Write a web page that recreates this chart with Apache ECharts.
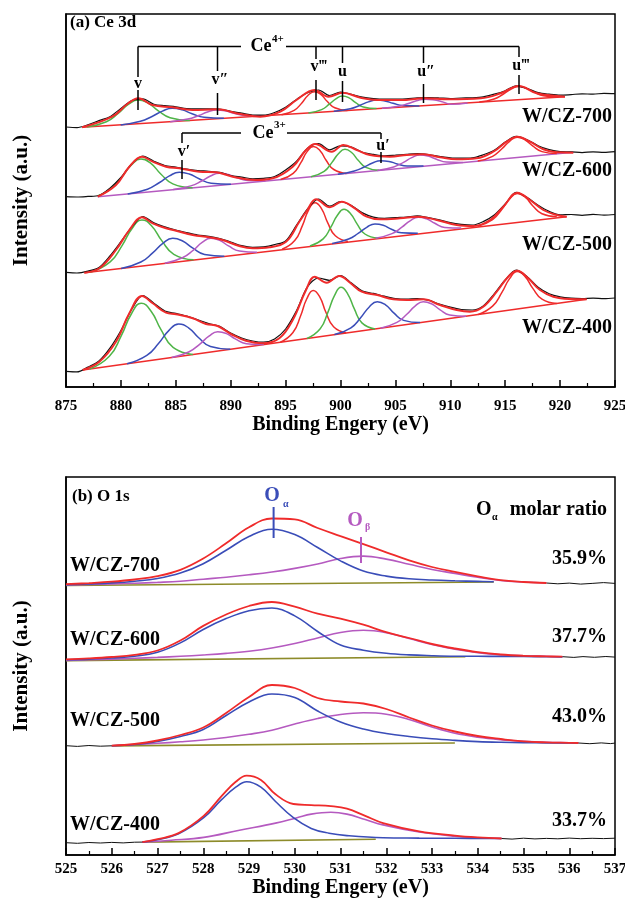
<!DOCTYPE html>
<html><head><meta charset="utf-8">
<script src="https://cdn.jsdelivr.net/npm/echarts@6/dist/echarts.min.js"></script>
<style>html,body{margin:0;padding:0;background:#fff}#c{width:625px;height:899px}</style>
</head><body><div id="c"></div><script>
// ---------------- DATA ----------------
// (a) Ce 3d : raw spectra sampled every 1 eV
const ceEv = [875,876,877,878,879,880,881,882,883,884,885,886,887,888,889,890,891,892,893,894,895,896,897,898,899,900,901,902,903,904,905,906,907,908,909,910,911,912,913,914,915,916,917,918,919,920,921,922,923,924,925];
const ceRaw700 = [260,259.4,262.2,266.4,270.3,278.6,286.5,288.2,282.8,281.3,280.2,278.4,278.2,278.2,278,275.6,273.8,272,271.8,274.5,279.8,287.6,294.3,297,291.5,295,292.6,289.8,288.4,287.8,287.9,288.2,289.1,289.3,289,288.5,289,289.2,290.1,292.8,296.3,301.2,298.4,294.4,292.8,291.8,292.4,293.2,292.8,293.7,293.4];
const ceRaw600 = [190.4,190,190.6,191.5,198.9,209.5,223.2,231,225.8,221.5,220,217.8,216.5,215.7,214.6,211.5,209.9,208.2,208.7,210.5,217,225.8,238.8,243.3,237.1,241.2,239.9,234.7,232.6,231.1,231.8,232.7,233.4,232.5,230.7,229.2,228.9,229.2,232.2,236.7,245,250.6,247.3,241.3,237.3,235.3,235.1,234.4,235.2,234.6,235.3];
const ceRaw500 = [114.6,114,115.9,119.5,131,145.3,160.2,170.4,164.1,160.1,157,154.4,152,150.6,148.3,145,141.3,139.6,140.1,142.4,146,161.9,178,188,180.8,185.5,181.4,174.1,169.8,168.6,169.4,170,171.1,169.3,167.1,164.3,162.6,161.8,165.4,172,183,194.6,189.4,181.7,175.6,172.1,172.5,171.7,172.6,171.9,172.5];
const ceRaw400 = [15.6,15.1,19.9,26,38.8,56.5,78,91.5,83.8,76,73.6,71,67.2,63.4,60.6,54,49,46,44.8,48,58,76.4,100.3,109,106.7,111.4,104,96,93.6,90.8,88.5,87.8,88.4,86.8,83,79.8,77.5,77,81.1,93.2,107.1,116.9,110.3,99.7,93.2,90.1,88.8,88.5,88.9,88.3,89];

// fitted envelopes [eV, intensity]
const ceFit700 = [[876.47,259.7],[879.2,270.3],[880.67,283.7],[881.58,288.7],[882.86,282],[884.68,279.7],[886.5,277],[888.69,277.7],[890.88,273],[892.7,270.3],[894.53,275.3],[895.99,287],[897.63,297],[898.91,290.3],[900.18,294.3],[901.83,289.3],[903.29,287],[905.47,287],[907.67,288.7],[909.86,287.7],[912.78,288.7],[914.6,293.7],[916.24,301],[917.89,293.7],[920.44,290.3]];
const ceFit600 = [[877.89,190.3],[879.55,202],[880.77,220.3],[881.92,230.3],[882.9,225.3],[884.11,220.3],[885.32,218.7],[887.14,215.3],[888.66,214.7],[890.18,210.3],[892.3,207],[893.83,208.7],[895.65,220.3],[896.86,237],[897.7,243],[899.2,235.3],[900.26,242],[901.48,237],[902.69,232],[904.51,230.3],[906.03,232],[907.54,232.7],[909.06,229.7],[910.58,227.7],[912.4,228.7],[913.92,235.3],[915.13,245.3],[916.1,250.3],[917.26,245.3],[918.47,237.7],[919.69,234.7],[921.2,234.3]];
const ceFit500 = [[876.67,114.3],[878.04,118.7],[879.55,137],[880.77,157],[881.92,169.7],[882.9,163.7],[884.11,158.7],[885.02,156.3],[886.54,152],[888.05,149.7],[889.27,147],[890.78,141],[892.0,138.7],[893.52,139.7],[895.04,145.3],[896.25,165.3],[896.95,176.5],[897.77,187.7],[899.04,179.7],[900.11,185.3],[901.17,179.7],[902.39,170.3],[903.6,167.7],[905.42,168.7],[907.09,170.3],[908.76,167],[910.58,162],[912.1,161],[913.62,167],[914.83,180.3],[916.1,194.3],[917.26,187],[918.47,177],[919.69,172],[920.6,170.3]];
const ceFit400 = [[876.52,17],[878.04,25.3],[879.55,45.3],[880.77,73.7],[881.92,91],[882.9,83.7],[884.11,74.3],[885.02,72.7],[886.54,68.7],[887.75,63],[888.81,61],[890.18,52],[891.39,46.3],[892.91,43.7],[894.43,48.7],[895.65,67],[896.86,97],[897.65,110.3],[898.74,104.3],[899.89,111],[900.87,104.3],[901.93,95.3],[903.35,92],[904.81,87.7],[906.03,87],[907.54,87.7],[909.06,82],[910.58,77],[911.79,75.3],[913.0,80.3],[914.23,95.3],[915.28,110.3],[916.1,116.3],[917.1,108.7],[918.17,97],[919.38,90.3],[920.9,88],[922.42,87.7]];

// backgrounds
const ceBase700 = [[876.47,259.7],[920.44,290.3]];
const ceBase600 = [[877.89,190.3],[921.2,234.8]];
const ceBase500 = [[876.67,114.3],[920.6,170.3]];
const ceBase400 = [[876.52,17],[922.42,87.7]];

// fitted components (v, v', v'', v''', u, u', u'', u''')
const ce700V  = [[876.88,260],[878.68,265.3],[879.78,273.9],[880.68,282.6],[881.58,287],[882.48,283.8],[883.38,276.4],[884.48,269.3],[886.28,266.5]];
const ce700V1 = [[879.98,262.1],[881.78,265.7],[882.88,270.8],[883.78,275.9],[884.68,278.7],[885.58,277.2],[886.48,273.3],[887.58,269.7],[889.38,268.7]];
const ce700V2 = [[884.49,265.3],[886.09,267.9],[887.09,271.5],[887.89,275],[888.69,277],[889.49,276.2],[890.29,273.7],[891.29,271.5],[892.89,271.1]];
const ce700V3 = [[894.63,272.3],[895.78,276.7],[896.48,284.1],[897.03,291.5],[897.63,295.3],[898.23,292.4],[898.78,285.7],[899.48,279.3],[900.63,276.5]];
const ce700U  = [[897.08,274],[898.28,277.4],[898.98,282.8],[899.58,288.2],[900.18,291],[900.78,289.1],[901.38,284.4],[902.08,280],[903.28,278.4]];
const ce700U1 = [[899.39,275.7],[900.89,278.2],[901.79,281.7],[902.54,285.1],[903.29,287],[904.04,286.1],[904.79,283.7],[905.69,281.5],[907.19,281.1]];
const ce700U2 = [[903.77,278.7],[905.27,280.8],[906.17,283.5],[906.92,286.2],[907.67,287.7],[908.42,287.2],[909.17,285.6],[910.07,282.8],[911.57,284.1]];
const ce700U3 = [[912.64,284.9],[913.99,288],[914.84,293],[915.54,297.9],[916.24,300.5],[916.94,298.9],[917.64,294.9],[918.49,291.2],[919.84,289.9]];

const ce600V  = [[877.9,191.2],[878.93,197.1],[880.03,209.3],[880.93,221.7],[881.83,228],[882.73,223.6],[883.63,213],[884.73,203.1],[886.53,199.2]];
const ce600V1 = [[880.62,193.1],[882.42,197.8],[883.52,204.5],[884.42,211.1],[885.32,214.7],[886.22,213],[887.12,208.2],[888.22,203.8],[890.02,202.8]];
const ce600V2 = [[884.76,197.4],[886.36,201.1],[887.36,206],[888.16,211],[888.96,213.7],[889.76,212.6],[890.56,209.3],[891.56,206.4],[893.16,206]];
const ce600V3 = [[894.54,207.4],[895.69,213.7],[896.39,224.3],[896.94,235.1],[897.54,240.5],[898.14,236.3],[898.69,226.7],[899.39,217.5],[900.54,213.6]];
const ce600U  = [[897.31,210.3],[898.51,215.7],[899.21,224.4],[899.81,233.2],[900.41,237.7],[901.01,234.5],[901.61,226.8],[902.31,219.6],[903.51,216.7]];
const ce600U1 = [[899.76,212.8],[901.26,216],[902.16,220],[902.91,224],[903.66,226.3],[904.41,225.6],[905.16,223.1],[906.06,220.9],[907.56,220.9]];
const ce600U2 = [[903.34,216.5],[904.84,220],[905.74,224.7],[906.49,229.4],[907.24,232],[907.99,230.9],[908.74,227.8],[909.64,224.9],[911.14,224.5]];
const ce600U3 = [[912.5,225.9],[913.85,230.7],[914.7,238.2],[915.4,245.7],[916.1,249.7],[916.8,247.2],[917.5,241.1],[918.35,235.4],[919.7,233.4]];

const ce500V  = [[877.22,115],[879.02,125.1],[880.12,141.7],[881.02,158.5],[881.92,167],[882.82,160.8],[883.72,146.4],[884.82,132.7],[886.62,127.2]];
const ce500V1 = [[880.02,118.6],[881.82,125],[882.92,134.4],[883.82,143.7],[884.72,148.7],[885.62,146],[886.52,139.1],[887.62,132.6],[889.42,130.8]];
const ce500V2 = [[884.0,123.8],[885.6,129.2],[886.6,136.9],[887.4,144.6],[888.2,148.7],[889.0,146.6],[889.8,141.1],[890.8,135.9],[892.4,134.7]];
const ce500V3 = [[894.68,137.7],[895.83,146.4],[896.53,161.4],[897.08,176.7],[897.68,184.3],[898.28,178.2],[898.83,164.4],[899.53,151.2],[900.68,145.5]];
const ce500U  = [[897.22,141],[898.42,148.1],[899.12,159.8],[899.72,171.7],[900.32,177.7],[900.92,173.3],[901.52,162.9],[902.22,153],[903.42,149]];
const ce500U1 = [[899.24,143.6],[900.74,148],[901.64,153.9],[902.39,159.7],[903.14,163],[903.89,161.7],[904.64,157.8],[905.54,154.2],[907.04,153.7]];
const ce500U2 = [[903.19,148.7],[904.69,153.4],[905.59,159.8],[906.34,166.2],[907.09,169.7],[907.84,168.1],[908.59,163.7],[909.49,159.6],[910.99,158.9]];
const ce500U3 = [[912.5,160.8],[913.85,167.4],[914.7,177.7],[915.4,188.1],[916.1,193.5],[916.8,190],[917.5,181.3],[918.35,173.2],[919.7,170.2]];

const ce400V  = [[877.15,18],[878.95,30.7],[880.05,51.7],[880.95,73],[881.85,83.7],[882.75,75.7],[883.65,57.3],[884.75,39.7],[886.55,32.5]];
const ce400V1 = [[880.56,23.3],[882.36,31.6],[883.46,44],[884.36,56.4],[885.26,63],[886.16,59.2],[887.06,49.5],[888.16,40.5],[889.96,37.7]];
const ce400V2 = [[884.62,29.5],[886.22,35.3],[887.22,43.2],[888.02,50.9],[888.82,55.3],[889.62,53.4],[890.42,48.1],[891.42,43.3],[893.02,42.4]];
const ce400V3 = [[894.52,44.8],[895.67,54.5],[896.37,71.2],[896.92,88],[897.52,96.5],[898.12,89.9],[898.67,74.7],[899.37,60.2],[900.52,54]];
const ce400U  = [[896.95,48.5],[898.15,58.2],[898.85,74.6],[899.45,91.3],[900.05,99.7],[900.65,93.2],[901.25,78.3],[901.95,64.1],[903.15,58]];
const ce400U1 = [[899.45,52.4],[900.95,59.2],[901.85,69.5],[902.6,79.8],[903.35,85.3],[904.1,82.2],[904.85,74.1],[905.75,66.6],[907.25,64.4]];
const ce400U2 = [[903.64,58.8],[905.14,64.6],[906.04,72.7],[906.79,80.9],[907.54,85.3],[908.29,83.2],[909.04,77.4],[909.94,72],[911.44,70.8]];
const ce400U3 = [[912.5,72.4],[913.85,80.9],[914.7,94.6],[915.4,108.4],[916.1,115.5],[916.8,110.6],[917.5,98.9],[918.35,87.8],[919.7,83.5]];

// (b) O 1s  [eV, intensity]
const oFit700  = [[525,270.8],[525.5,271.9],[526,273.3],[526.5,275.5],[527,278.9],[527.5,285.2],[528,296.5],[528.5,311.7],[529,327.7],[529.5,336.5],[530,335.7],[530.5,327],[531,318.9],[531.5,310.9],[532,302.7],[532.5,294.6],[533,288],[533.5,283.1],[534,278.7],[534.5,274.8],[535,273],[535.5,272]];
const oBlue700 = [[525,270.3],[525.5,271.1],[526,272.1],[526.5,273.8],[527,276.5],[527.5,281.9],[528,291.3],[528.5,304.7],[529,318.5],[529.5,325.8],[530,320.5],[530.5,307.5],[531,294.1],[531.5,283.9],[532,278.9],[532.5,276.2],[533,275],[533.5,274.2],[534,273.6],[534.35,273.2]];
const oMag700  = [[525,270],[525.5,270.5],[526,271.1],[526.5,271.8],[527,272.6],[527.5,273.7],[528,275.8],[528.5,277.8],[529,280.2],[529.5,283],[530,286.6],[530.5,291],[531,296.5],[531.5,298.9],[532,295.9],[532.5,290.7],[533,285.5],[533.5,281.6],[534,277.8],[534.5,274.5],[535,273],[535.5,272]];
const oBase700 = [[525,269.5],[534.35,273]];
const oRaw700  = [[535.5,272],[535.75,271.2],[536,271.9],[536.25,270.9],[536.5,271.6],[536.75,272.4],[537,271.6]];

const oFit600  = [[525,195.7],[525.5,196.6],[526,198],[526.5,200.2],[527,204.5],[527.5,214.5],[528,229.1],[528.5,240.5],[529,249],[529.5,253],[530,248.3],[530.5,241.3],[531,236.4],[531.5,230.3],[532,222.8],[532.5,217],[533,211],[533.5,206.5],[534,202.9],[534.5,200.5],[535,199.2],[535.5,198.6],[535.85,198.3]];
const oBlue600 = [[525,195.2],[525.5,195.9],[526,197],[526.5,198.7],[527,202.7],[527.5,212.1],[528,225.5],[528.5,236.4],[529,244.3],[529.5,247],[530,239.1],[530.5,223.5],[531,209.9],[531.5,204.8],[532,201.7],[532.5,200.1],[533,199.3],[533.5,198.8],[534,198.7],[534.5,198.6],[535,198.5],[535.5,198.3],[535.85,198]];
const oMag600  = [[525,194.6],[525.5,195.2],[526,195.9],[526.5,196.7],[527,197.6],[527.5,198.7],[528,200],[528.5,201.6],[529,203.8],[529.5,207],[530,211.5],[530.5,217],[531,222.5],[531.5,224.7],[532,222.3],[532.5,216.5],[533,210.5],[533.5,205.8],[534,202.4],[534.5,200.3],[535,199.3],[535.5,198.7],[535.85,198.3]];
const oBase600 = [[525,194.4],[533.73,198.2]];
const oRaw600  = [[535.85,198.3],[536.1,197.6],[536.3,198.4],[536.55,197.7],[536.8,198.5],[537,197.9]];

const oFit500  = [[526,109.3],[526.5,111],[527,114.5],[527.5,120],[528,127.5],[528.5,142],[529,158],[529.5,170],[530,167],[530.5,157],[531,153.5],[531.5,151.5],[532,146],[532.5,137.5],[533,129.5],[533.5,123.5],[534,119],[534.5,116],[535,113.6],[535.5,112.6],[536,112.2],[536.2,112]];
const oBlue500 = [[526,109.2],[526.5,110.5],[527,113.5],[527.5,118.5],[528,125.5],[528.5,139.5],[529,153],[529.5,161],[530,157.5],[530.5,144],[531,133],[531.5,126],[532,121.5],[532.5,118.5],[533,116.2],[533.5,114.6],[534,113.4],[534.5,112.7],[535,112.3],[535.5,112.1],[536,112],[536.2,112]];
const oMag500  = [[526,109.3],[526.5,110.5],[527,111.7],[527.5,113.2],[528,115],[528.5,117.5],[529,120.7],[529.5,124.8],[530,131],[530.5,136.5],[531,140.5],[531.5,142.2],[532,140.8],[532.5,135.5],[533,128],[533.5,121.7],[534,117.8],[534.5,115.3],[535,113.7],[535.5,112.7],[536,112.2],[536.2,112]];
const oBase500 = [[526,109.1],[533.5,112]];
const oRaw500L = [[525,109.3],[525.25,108.6],[525.5,109.5],[525.75,108.8],[526,109.2]];
const oRaw500R = [[536.2,112],[536.45,111.3],[536.7,112.1],[536.9,111.4],[537,111.9]];

const oFit400  = [[526.67,12.9],[527.0,15.8],[527.46,21.9],[528.01,39.1],[528.4,58.9],[528.71,73.2],[528.95,79.3],[529.26,75],[529.58,60.7],[529.97,51],[530.36,49.9],[530.79,48.8],[531.14,46.3],[531.54,39.1],[531.93,31.9],[532.72,23.7],[533.5,19.4],[534.0,17.6],[534.52,16.5]];
const oBlue400 = [[526.67,12.9],[527.0,15.3],[527.46,21.2],[528.01,37.3],[528.4,55.3],[528.71,67.8],[528.95,73.2],[529.26,67.8],[529.58,53.5],[529.97,37.3],[530.36,26.6],[530.75,21.8],[531.14,19.4],[531.93,17.2],[532.72,16.9],[533.5,16.7],[534.52,16.5]];
const oMag400  = [[526.67,12.9],[527.3,14.8],[528.01,17.6],[528.79,24.8],[529.58,31.9],[530.05,37.3],[530.36,40.9],[530.79,42.7],[531.14,40.9],[531.54,35.5],[531.93,30.1],[532.72,23],[533.5,18.7],[534.0,17.3],[534.52,16.5]];
const oBase400 = [[526.67,12.9],[531.77,15.8]];
const oRaw400L = [[525,12.3],[525.25,11.7],[525.5,12.5],[525.75,12],[526,12.6],[526.25,12.1],[526.5,12.8],[526.67,12.9]];
const oRaw400R = [[534.52,16.5],[534.75,15.9],[535,16.8],[535.25,16.1],[535.5,16.6],[535.75,16.2],[536,16.9],[536.25,16.3],[536.5,16.7],[536.75,16.4],[537,16.8]];

const sampleNames = ['W/CZ-700','W/CZ-600','W/CZ-500','W/CZ-400'];
const oAlphaRatio = ['35.9%','37.7%','43.0%','33.7%'];

// ---------------- CHART ----------------
const RED='#ef2b2b', GREEN='#4fb548', BLUE='#3a4db8', MAG='#b55ac0', OLIVE='#8d8b2a', BLK='#111';
const SERIF='"Liberation Serif","DejaVu Serif",serif';
const series=[];
function add(data,color,width,ax,smooth,z){
  series.push({type:'line',data:data,xAxisIndex:ax,yAxisIndex:ax,symbol:'none',smooth:smooth,
    lineStyle:{color:color,width:width},z:z,silent:true,animation:false});
}
const ceSets=[
  [ceRaw700,ceFit700,ceBase700,RED,[[ce700V,GREEN],[ce700V1,BLUE],[ce700V2,MAG],[ce700V3,RED],[ce700U,GREEN],[ce700U1,BLUE],[ce700U2,MAG],[ce700U3,RED]]],
  [ceRaw600,ceFit600,ceBase600,MAG,[[ce600V,GREEN],[ce600V1,BLUE],[ce600V2,MAG],[ce600V3,RED],[ce600U,GREEN],[ce600U1,BLUE],[ce600U2,MAG],[ce600U3,RED]]],
  [ceRaw500,ceFit500,ceBase500,RED,[[ce500V,GREEN],[ce500V1,BLUE],[ce500V2,MAG],[ce500V3,RED],[ce500U,GREEN],[ce500U1,BLUE],[ce500U2,MAG],[ce500U3,RED]]],
  [ceRaw400,ceFit400,ceBase400,RED,[[ce400V,GREEN],[ce400V1,BLUE],[ce400V2,MAG],[ce400V3,RED],[ce400U,GREEN],[ce400U1,BLUE],[ce400U2,MAG],[ce400U3,RED]]]
];
ceSets.forEach(function(s){
  add(ceEv.map(function(x,i){return [x,s[0][i]];}),BLK,1.2,0,0.3,4);
  add(s[2],s[3],1.6,0,false,2);
  s[4].forEach(function(c){add(c[0],c[1],1.5,0,0.5,3);});
  add(s[1],RED,2,0,0.4,5);
});
const oSets=[
  [[oRaw700],oFit700,oBlue700,oMag700,oBase700],
  [[oRaw600],oFit600,oBlue600,oMag600,oBase600],
  [[oRaw500L,oRaw500R],oFit500,oBlue500,oMag500,oBase500],
  [[oRaw400L,oRaw400R],oFit400,oBlue400,oMag400,oBase400]
];
oSets.forEach(function(s){
  s[0].forEach(function(r){add(r,BLK,1,1,false,4);});
  add(s[4],OLIVE,1.6,1,false,2);
  add(s[3],MAG,1.6,1,0.4,3);
  add(s[2],BLUE,1.6,1,0.4,3);
  add(s[1],RED,1.8,1,0.4,5);
});

function xAx(min,max,interval,gi,margin,nameGap){
  return {type:'value',gridIndex:gi,min:min,max:max,interval:interval,
    name:'Binding Engery (eV)',nameLocation:'middle',nameGap:nameGap,
    nameTextStyle:{fontFamily:SERIF,fontWeight:'bold',fontSize:20,color:'#000'},
    axisLine:{show:true,lineStyle:{color:'#000',width:1.5}},
    axisTick:{show:true,inside:true,length:7,lineStyle:{color:'#000',width:1.5}},
    minorTick:{show:true,splitNumber:2,length:4,lineStyle:{color:'#000',width:1.2}},
    splitLine:{show:false},minorSplitLine:{show:false},
    axisLabel:{margin:margin,fontFamily:SERIF,fontWeight:'bold',fontSize:15,color:'#000'}};
}
function yAx(max,gi){
  return {type:'value',gridIndex:gi,min:0,max:max,
    name:'Intensity (a.u.)',nameLocation:'middle',nameGap:34,nameRotate:90,
    nameTextStyle:{fontFamily:SERIF,fontWeight:'bold',fontSize:21,color:'#000'},
    axisLine:{show:true,lineStyle:{color:'#000',width:1.5}},
    axisTick:{show:false},axisLabel:{show:false},splitLine:{show:false}};
}

const g=[];
function txt(t,x,y,size,align,color,bold){
  g.push({type:'text',x:x,y:y,z:100,style:{text:t,font:(bold===false?'':'bold ')+size+'px '+SERIF,
    fill:color||'#000',align:align||'center',verticalAlign:'middle',textAlign:align||'center',textVerticalAlign:'middle'}});
}
function ln(x1,y1,x2,y2,color,w){
  g.push({type:'line',z:100,shape:{x1:x1,y1:y1,x2:x2,y2:y2},style:{stroke:color||'#000',lineWidth:w||1.5}});
}
// panel (a) annotations
txt('(a) Ce 3d',70,23,17,'left');
ln(138,46.5,241,46.5); ln(286,46.5,519,46.5);
txt('Ce',261,46.5,18,'center'); txt('4+',272,39,11,'left');
[[138,77,'v',138,84,90,110],[217.5,71,'v\u2033',220,80,93,115],[316,59,'v\u2034',319,67,80,100],
 [342.5,63,'u',342.5,72,81,102],[423.5,63,'u\u2033',426,72,84,103],[519,57,'u\u2034',521,66,75,94]].forEach(function(d){
  ln(d[0],46.5,d[0],d[1]); txt(d[2],d[3],d[4],16,'center'); ln(d[0],d[5],d[0],d[6]);
});
ln(182,133,241,133); ln(287,133,381,133);
txt('Ce',263,133,18,'center'); txt('3+',274,125,11,'left');
[[182,143,'v\u2032',184,152,160,179],[381,139,'u\u2032',383,146,152,163]].forEach(function(d){
  ln(d[0],133,d[0],d[1]); txt(d[2],d[3],d[4],16,'center'); ln(d[0],d[5],d[0],d[6]);
});
[117,171,245,328].forEach(function(y,i){txt(sampleNames[i],612,y,20,'right');});
// panel (b) annotations
txt('(b) O 1s',72,497,17,'left');
txt('O',272,496,20,'center',BLUE); txt('\u03b1',283,504,10,'left',BLUE);
ln(273.6,507,273.6,538,BLUE,2);
txt('O',355,521,20,'center',MAG); txt('\u03b2',365,527,10,'left',MAG);
ln(361,537,361,563,MAG,2);
txt('O',476,510,20,'left'); txt('\u03b1',492,517,10,'left'); txt('molar ratio',607,510,20,'right');
[566,640,721,825].forEach(function(y,i){txt(sampleNames[i],70,y,20,'left');});
[559,637,717,821].forEach(function(y,i){txt(oAlphaRatio[i],607,y,20,'right');});

const chart=echarts.init(document.getElementById('c'),null,{renderer:'canvas'});
chart.setOption({
  animation:false,backgroundColor:'#fff',
  grid:[{left:66,top:14,width:549,height:373,show:true,borderColor:'#000',borderWidth:1.5,outerBoundsMode:'none'},
        {left:66,top:477,width:549,height:378,show:true,borderColor:'#000',borderWidth:1.5,outerBoundsMode:'none'}],
  xAxis:[xAx(875,925,5,0,12,28),xAx(525,537,1,1,7,22)],
  yAxis:[yAx(373,0),yAx(378,1)],
  series:series,
  graphic:g
});
</script></body></html>
